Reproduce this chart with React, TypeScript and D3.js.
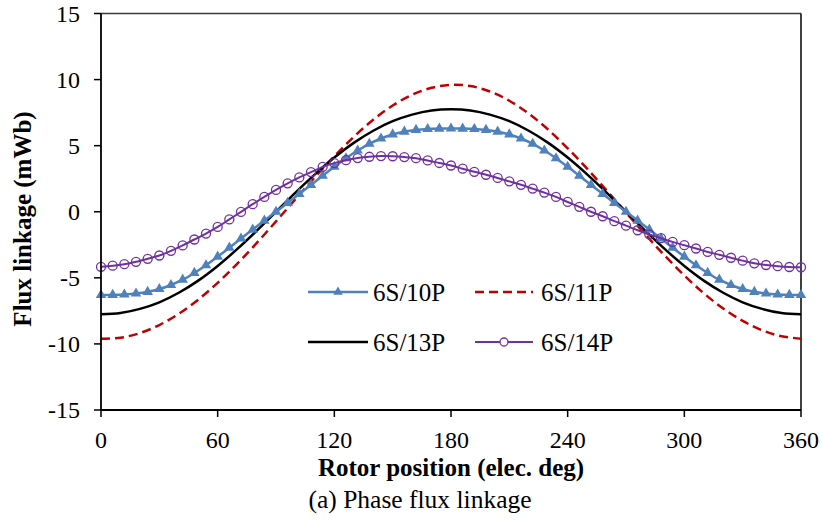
import React from "react";
import * as d3 from "d3";

// ---------- data ----------
const xTicks = [0, 60, 120, 180, 240, 300, 360];
const yTicks = [-15, -10, -5, 0, 5, 10, 15];

// marker series sampled every 6 elec. deg
const angles6 = [
  0, 6, 12, 18, 24, 30, 36, 42, 48, 54, 60, 66, 72, 78, 84, 90, 96, 102, 108, 114, 120,
  126, 132, 138, 144, 150, 156, 162, 168, 174, 180, 186, 192, 198, 204, 210, 216, 222,
  228, 234, 240, 246, 252, 258, 264, 270, 276, 282, 288, 294, 300, 306, 312, 318, 324,
  330, 336, 342, 348, 354, 360,
];
const s10P = [
  -6.3, -6.29, -6.26, -6.19, -6.06, -5.85, -5.54, -5.14, -4.63, -4.05, -3.4, -2.72, -2.03,
  -1.35, -0.67, 0, 0.67, 1.35, 2.03, 2.72, 3.4, 4.05, 4.63, 5.14, 5.54, 5.85, 6.06, 6.19,
  6.26, 6.29, 6.3, 6.29, 6.26, 6.19, 6.06, 5.85, 5.54, 5.14, 4.63, 4.05, 3.4, 2.72, 2.03,
  1.35, 0.67, 0, -0.67, -1.35, -2.03, -2.72, -3.4, -4.05, -4.63, -5.14, -5.54, -5.85,
  -6.06, -6.19, -6.26, -6.29, -6.3,
];
const s14P = [
  -4.17, -4.08, -3.97, -3.79, -3.56, -3.31, -2.96, -2.55, -2.1, -1.65, -1.15, -0.58,
  -0.01, 0.57, 1.12, 1.65, 2.15, 2.6, 3.0, 3.4, 3.68, 3.9, 4.06, 4.16, 4.21, 4.2, 4.14,
  4.05, 3.88, 3.69, 3.5, 3.26, 3.02, 2.8, 2.56, 2.3, 2.04, 1.75, 1.45, 1.12, 0.74, 0.37,
  0.0, -0.34, -0.71, -1.05, -1.4, -1.72, -2.0, -2.28, -2.53, -2.78, -3.04, -3.26, -3.48,
  -3.7, -3.9, -4.03, -4.12, -4.18, -4.2,
];

// line-only series sampled every 10 elec. deg
const angles10 = [
  0, 10, 20, 30, 40, 50, 60, 70, 80, 90, 100, 110, 120, 130, 140, 150, 160, 170, 180, 190,
  200, 210, 220, 230, 240, 250, 260, 270, 280, 290, 300, 310, 320, 330, 340, 350, 360,
];
const s11P = [
  -9.6, -9.53, -9.18, -8.57, -7.72, -6.65, -5.38, -3.94, -2.38, -0.73, 0.95, 2.61, 4.2,
  5.67, 6.96, 8.04, 8.85, 9.38, 9.6, 9.51, 9.1, 8.4, 7.42, 6.21, 4.8, 3.26, 1.62, -0.06,
  -1.73, -3.33, -4.82, -6.17, -7.32, -8.26, -8.97, -9.42, -9.6,
];
const s13P = [
  -7.75, -7.66, -7.35, -6.85, -6.13, -5.21, -4.1, -2.83, -1.45, 0, 1.45, 2.83, 4.1, 5.21,
  6.13, 6.85, 7.35, 7.66, 7.75, 7.66, 7.35, 6.85, 6.13, 5.21, 4.1, 2.83, 1.45, 0, -1.45,
  -2.83, -4.1, -5.21, -6.13, -6.85, -7.35, -7.66, -7.75,
];

const legendNames = ["6S/10P", "6S/11P", "6S/13P", "6S/14P"];
const xTitle = "Rotor position (elec. deg)";
const yTitle = "Flux linkage (mWb)";
const caption = "(a) Phase flux linkage";

// ---------- styles ----------
const FONT = '"Liberation Serif"';
const BLUE = "#4F81BD";
const RED = "#C00000";
const PURPLE = "#7030A0";

const W = 822;
const H = 521;
const M = { left: 101, right: 801, top: 13.5, bottom: 410 };

const txt = (size: number, bold = false): React.CSSProperties => ({
  fontFamily: FONT,
  fontSize: size + "px",
  fontWeight: bold ? 700 : 400,
});

export default function App() {
  const x = d3.scaleLinear().domain([0, 360]).range([M.left, M.right]);
  const y = d3.scaleLinear().domain([-15, 15]).range([M.bottom, M.top]);

  const line = d3
    .line<[number, number]>()
    .x((d) => x(d[0]))
    .y((d) => y(d[1]))
    .curve(d3.curveCatmullRom.alpha(0.5));

  const zip = (a: number[], b: number[]) => a.map((v, i) => [v, b[i]] as [number, number]);
  const d10 = zip(angles6, s10P);
  const d14 = zip(angles6, s14P);
  const d11 = zip(angles10, s11P);
  const d13 = zip(angles10, s13P);

  const tri = d3.symbol().type(d3.symbolTriangle).size(48)() as string;
  const triLeg = d3.symbol().type(d3.symbolTriangle).size(40)() as string;

  const legendRows = [
    { y: 292, items: [0, 1] },
    { y: 342, items: [2, 3] },
  ];
  const colX = [
    { x0: 308, x1: 368, tx: 373 },
    { x0: 475, x1: 533, tx: 541 },
  ];
  const styleOf = (i: number) => {
    if (i === 0) return { stroke: BLUE, w: 2.5, dash: undefined, marker: "tri" };
    if (i === 1) return { stroke: RED, w: 2.5, dash: "9 5", marker: "none" };
    if (i === 2) return { stroke: "#000", w: 2.5, dash: undefined, marker: "none" };
    return { stroke: PURPLE, w: 2, dash: undefined, marker: "circ" };
  };

  return (
    <svg
      width={W}
      height={H}
      style={{ position: "absolute", left: 0, top: 0, background: "#fff" }}
    >
      <rect x={0} y={0} width={W} height={H} fill="#fff" />

      {/* frame top/right */}
      <line x1={M.left} x2={M.right} y1={M.top} y2={M.top} stroke="#3a3a3a" strokeWidth={1.3} />
      <line x1={M.right} x2={M.right} y1={M.top} y2={M.bottom} stroke="#000" strokeWidth={1.5} />

      {/* series */}
      <path d={line(d11) || ""} fill="none" stroke={RED} strokeWidth={2.5} strokeDasharray="9 5" />
      <path d={line(d13) || ""} fill="none" stroke="#000" strokeWidth={2.5} />
      <path d={line(d10) || ""} fill="none" stroke={BLUE} strokeWidth={2.5} />
      {d10.map((d, i) => (
        <path key={"t" + i} d={tri} transform={`translate(${x(d[0])},${y(d[1])})`} fill={BLUE} />
      ))}
      <path d={line(d14) || ""} fill="none" stroke={PURPLE} strokeWidth={2} />
      {d14.map((d, i) => (
        <circle key={"c" + i} cx={x(d[0])} cy={y(d[1])} r={4.5} fill="none" stroke={PURPLE} strokeWidth={1.3} />
      ))}

      {/* axes */}
      <line x1={M.left} x2={M.left} y1={M.top} y2={M.bottom} stroke="#000" strokeWidth={1.8} />
      <line x1={M.left} x2={M.right} y1={M.bottom} y2={M.bottom} stroke="#000" strokeWidth={1.8} />
      {yTicks.map((t) => (
        <g key={"yt" + t}>
          <line x1={M.left - 7} x2={M.left} y1={y(t)} y2={y(t)} stroke="#000" strokeWidth={1.5} />
          <text x={80} y={y(t)} dy="0.35em" textAnchor="end" style={txt(24)} fill="#000">
            {t}
          </text>
        </g>
      ))}
      {xTicks.map((t) => (
        <g key={"xt" + t}>
          <line x1={x(t)} x2={x(t)} y1={M.bottom} y2={M.bottom + 7} stroke="#000" strokeWidth={1.5} />
          <text x={x(t)} y={448} textAnchor="middle" style={txt(24)} fill="#000">
            {t}
          </text>
        </g>
      ))}

      {/* titles */}
      <text x={(M.left + M.right) / 2} y={476} textAnchor="middle" style={txt(25, true)} fill="#000">
        {xTitle}
      </text>
      <text
        transform={`translate(31,219) rotate(-90)`}
        textAnchor="middle"
        style={txt(25, true)}
        fill="#000"
      >
        {yTitle}
      </text>
      <text x={420} y={508} textAnchor="middle" style={txt(25.5)} fill="#000">
        {caption}
      </text>

      {/* legend */}
      {legendRows.map((row) =>
        row.items.map((idx, c) => {
          const s = styleOf(idx);
          const cx = colX[c];
          const mid = (cx.x0 + cx.x1) / 2;
          return (
            <g key={"lg" + idx}>
              <line x1={cx.x0} x2={cx.x1} y1={row.y} y2={row.y} stroke={s.stroke} strokeWidth={s.w} strokeDasharray={s.dash} />
              {s.marker === "tri" && <path d={triLeg} transform={`translate(${mid},${row.y})`} fill={BLUE} />}
              {s.marker === "circ" && <circle cx={mid} cy={row.y} r={4} fill="#fff" stroke={PURPLE} strokeWidth={1.3} />}
              <text x={cx.tx} y={row.y + 8.5} style={txt(25)} fill="#000">
                {legendNames[idx]}
              </text>
            </g>
          );
        })
      )}
    </svg>
  );
}
